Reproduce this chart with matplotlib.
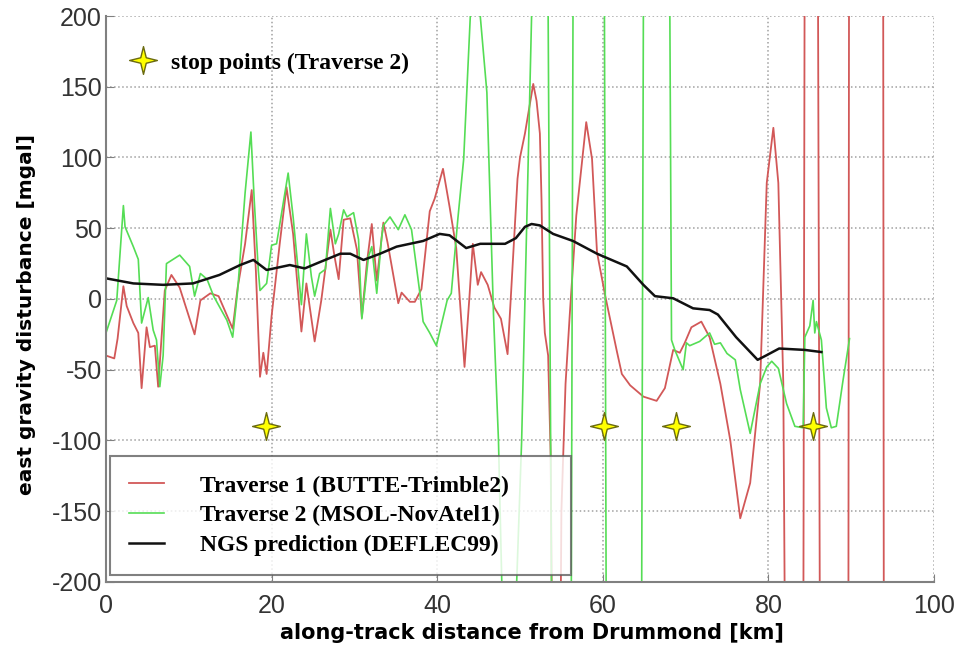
import numpy as np
import matplotlib
matplotlib.use('Agg')
import matplotlib.pyplot as plt
from matplotlib.path import Path

# Traverse 1 (BUTTE-Trimble2); values beyond +-200 are off-scale swings
t1_km = [0, 1.0, 1.4, 2.1, 2.5, 3.3, 3.9, 4.3, 4.9, 5.3, 5.9, 6.3, 7.1, 7.9, 8.9, 10.7, 11.4,
         12.6, 13.6, 15.3, 15.9, 16.8, 17.6, 18.1, 18.6, 19.0, 19.4, 20.0, 21.0, 21.8, 22.6,
         23.6, 24.2, 25.2, 26.0, 27.1, 27.6, 28.1, 28.7, 29.5, 30.3, 30.9, 31.5, 32.1, 32.7,
         33.5, 34.0, 35.3, 35.7, 36.7, 37.3, 38.1, 39.1, 39.7, 40.7, 41.5, 42.3, 43.3, 43.9,
         44.3, 44.9, 45.3, 46.1, 46.9, 47.7, 48.5, 48.9, 49.7, 50.0, 50.6, 51.6, 52.0, 52.4,
         52.6, 52.8, 53.0, 53.4, 53.7, 54.1, 54.7, 55.0, 55.5, 56.0, 56.8, 58.0, 58.7, 59.3,
         60.3, 61.7, 62.3, 63.3, 64.9, 66.5, 67.5, 68.5, 69.3, 69.9, 70.7, 71.9, 72.9, 74.2,
         75.4, 76.6, 77.8, 79.0, 79.8, 80.6, 81.2, 81.8, 82.4, 84.1, 84.5, 85.8, 86.4, 89.6,
         89.8, 93.8, 94.0]
t1_mgal = [-40, -42, -28, 9, -5, -17, -24, -63, -20, -34, -33, -62, 6, 17, 8, -25, -1,
           4, 2, -21, 8, 39, 77, 20, -55, -38, -53, -12, 40, 79, 46,
           -23, 11, -30, -1, 49, 30, 14, 56, 57, 35, -13, 25, 53, 13,
           54, 40, -3, 4.5, -2, -2, 7, 62, 71, 92, 65, 36, -48, 2,
           39, 10, 19, 10, -6, -14, -39, 2, 85, 100, 117, 152, 140, 117,
           70, 0, -24, -40, -110, -400, -400, -150, -60, -12, 59, 125, 99, 33,
           2, -37, -53, -61, -69, -72, -63, -36, -38, -31, -20, -16, -27, -60,
           -100, -155, -130, -60, 82, 121, 82, -60, -600, -600, 600, 600, -600, -600,
           600, 600, -600]

# Traverse 2 (MSOL-NovAtel1)
t2_km = [0, 1.3, 2.1, 2.3, 3.3, 3.9, 4.3, 5.1, 5.7, 6.1, 6.5, 6.9, 7.3, 8.9, 10.1, 10.7, 11.4,
         12.2, 13.0, 14.6, 15.3, 15.9, 16.8, 17.5, 17.9, 18.4, 18.6, 19.4, 20.0, 20.6, 22.0,
         22.6, 23.6, 24.2, 24.8, 25.2, 25.8, 26.5, 27.1, 27.7, 28.1, 28.7, 29.1, 29.9, 30.5,
         30.9, 31.7, 32.1, 32.7, 33.3, 33.5, 34.3, 35.3, 36.1, 36.9, 37.9, 38.3, 39.1, 39.9,
         41.2, 41.7, 42.5, 43.2, 44.0, 44.6, 45.2, 46.0, 46.8, 47.4, 47.8, 48.2, 49.2, 49.6,
         50.2, 51.4, 51.8, 53.0, 53.4, 53.8, 54.2, 55.8, 56.2, 56.4, 56.8, 59.8, 60.2, 60.4,
         60.8, 64.4, 64.7, 64.9, 65.3, 67.8, 68.1, 68.3, 68.7, 69.7, 70.1, 70.5, 71.7, 72.9,
         73.5, 74.2, 75.0, 76.0, 76.6, 77.8, 79.0, 79.8, 80.4, 81.2, 82.2, 83.2, 84.2, 84.4,
         85.0, 85.4, 85.6, 85.8, 86.4, 87.0, 87.6, 88.2, 89.0, 89.8]
t2_mgal = [-24, -1, 66, 51, 37, 28, -17, 1, -22, -29, -62, -40, 25, 31, 23, 2, 18,
           14, 2, -15, -27, 6, 75, 118, 70, 20, 6, 11, 38, 39, 89,
           58, -4, 46, 16, 2, 18, 21, 64, 39, 46, 63, 58, 61, 42,
           -14, 30, 37, 4, 44, 52, 58, 49, 59.5, 49, 4.5, -16, -24, -33,
           -1, 4, 57, 99, 200, 215, 200, 146, -11, -100, -200, -300, -300, -200,
           -100, 200, 400, 400, 200, -200, -400, -400, -200, 200, 400, 400, 200, -200,
           -400, -400, -200, 200, 400, 400, 200, -29, -36, -50, -31, -33, -30, -24,
           -32, -31, -38.5, -43, -64, -95, -60, -48, -44, -49, -74, -90, -91, -27,
           -19, -1, -24, -16, -29, -77, -91, -90, -58, -28]

# NGS prediction (DEFLEC99)
ngs_km = [0, 3.3, 6.9, 10.5, 13.7, 16.2, 17.8, 19.4, 22.2, 24.0, 25.8, 28.3, 29.5, 31.1,
          33.1, 35.1, 38.3, 40.3, 41.5, 43.5, 45.2, 48.2, 49.5, 50.6, 51.4, 52.4, 54.0,
          56.4, 59.3, 62.9, 64.9, 66.3, 68.5, 70.9, 72.9, 73.9, 76.1, 78.7, 79.7, 81.3,
          84.4, 86.4]
ngs_mgal = [14.6, 11, 10, 11, 17, 24, 27.6, 20.5, 24, 21.6, 26, 32, 32, 27.6,
            32, 37, 41, 46, 45, 36, 39, 39, 43, 51, 53, 52, 46,
            41, 32, 23, 10, 2, 0.5, -6.6, -7.8, -11, -27, -43, -40, -35,
            -36, -37.5]

# stop points of traverse 2
stop_km = [19.3, 60.2, 68.9, 85.4]
stop_mgal = [-90, -90, -90, -90]

plt.rcParams['axes.unicode_minus'] = False

# thin four-pointed star marker
ang = np.linspace(0, 2 * np.pi, 9)[:-1] + np.pi / 2
rad = np.array([1, 0.28] * 4)
star = Path(np.column_stack([rad * np.cos(ang), rad * np.sin(ang)]).tolist() + [[0, 1]],
            [Path.MOVETO] + [Path.LINETO] * 7 + [Path.CLOSEPOLY])

fig = plt.figure(figsize=(9.61, 6.48), dpi=100)
ax = fig.add_axes([0.1103, 0.1019, 0.8616, 0.8734])

l1, = ax.plot(t1_km, t1_mgal, color='#d25858', lw=1.3, label='Traverse 1 (BUTTE-Trimble2)')
l2, = ax.plot(t2_km, t2_mgal, color='#55dd55', lw=1.2, label='Traverse 2 (MSOL-NovAtel1)')
l3, = ax.plot(ngs_km, ngs_mgal, color='#111111', lw=1.8, label='NGS prediction (DEFLEC99)')
sp, = ax.plot(stop_km, stop_mgal, ls='none', marker=star, ms=20, mfc='#ffff00',
              mec='#6b6b10', mew=1.0, label='stop points (Traverse 2)')

ax.set_xlim(0, 100)
ax.set_ylim(-200, 200)
ax.set_xticks([0, 20, 40, 60, 80, 100])
ax.set_yticks([-200, -150, -100, -50, 0, 50, 100, 150, 200])
ax.grid(True, ls=':', color='#a0a0a0', lw=1.1)
for s in ['top', 'right']:
    ax.spines[s].set_visible(False)
for s in ['left', 'bottom']:
    ax.spines[s].set_color('#808080')
    ax.spines[s].set_linewidth(1.5)
ax.tick_params(direction='in', length=6, color='#808080', labelsize=18, labelcolor='#333333')
ax.tick_params(axis='x', pad=9)
ax.tick_params(axis='y', pad=3)
for lab in ax.get_xticklabels() + ax.get_yticklabels():
    lab.set_family('Liberation Sans')

ax.set_xlabel('along-track distance from Drummond [km]', fontsize=15, fontweight='bold',
              family='DejaVu Sans')
ax.xaxis.set_label_coords(0.515, -0.072)
ax.set_ylabel('east gravity disturbance [mgal]', fontsize=14.5, fontweight='bold',
              family='DejaVu Sans')
ax.yaxis.set_label_coords(-0.085, 0.472)

lfont = {'family': 'Liberation Serif', 'weight': 'bold', 'size': 17}
leg = ax.legend(handles=[l1, l2, l3], loc='lower left', bbox_to_anchor=(0.005, 0.012, 0.556, 0.2),
                mode='expand', prop=lfont, frameon=True, fancybox=False, handlelength=1.5,
                handletextpad=1.5, labelspacing=0.35, borderpad=0.8, borderaxespad=0)
leg.get_frame().set_edgecolor('#606060')
leg.get_frame().set_linewidth(1.5)
ax.add_artist(leg)

ax.legend(handles=[sp], loc='upper left', bbox_to_anchor=(0.016, 0.953), prop=lfont,
          frameon=False, handlelength=1.2, handletextpad=0.6, borderaxespad=0)

fig.savefig('out.png', dpi=100)
